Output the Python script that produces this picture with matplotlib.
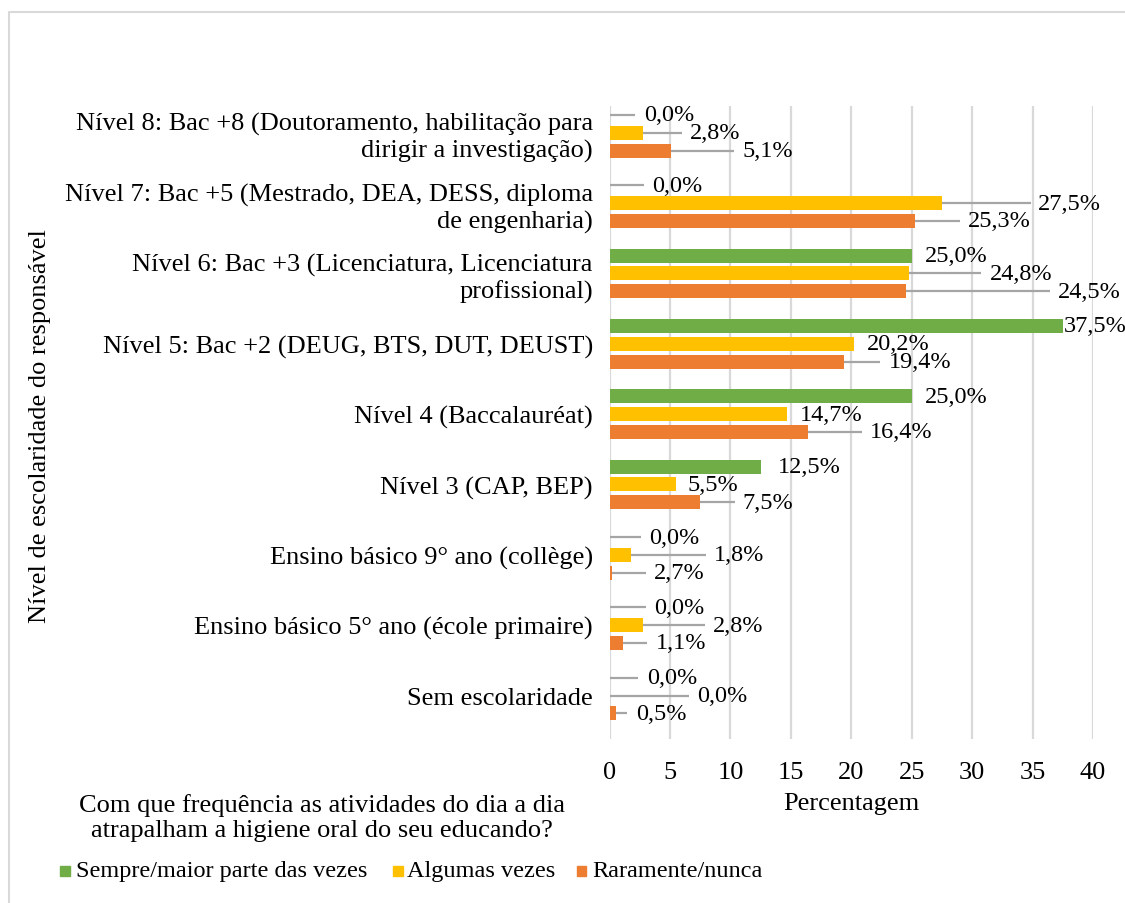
import matplotlib
matplotlib.use("Agg")
import matplotlib.pyplot as plt
from matplotlib.lines import Line2D
from matplotlib.patches import Rectangle

# ---------------- data ----------------
categories = [
    "Sem escolaridade",
    "Ensino básico 5° ano (école primaire)",
    "Ensino básico 9° ano (collège)",
    "Nível 3 (CAP, BEP)",
    "Nível 4 (Baccalauréat)",
    "Nível 5: Bac +2 (DEUG, BTS, DUT, DEUST)",
    "Nível 6: Bac +3 (Licenciatura, Licenciatura\nprofissional)",
    "Nível 7: Bac +5 (Mestrado, DEA, DESS, diploma\nde engenharia)",
    "Nível 8: Bac +8 (Doutoramento, habilitação para\ndirigir a investigação)",
]
series_names = ["Sempre/maior parte das vezes", "Algumas vezes", "Raramente/nunca"]
sempre = [0.0, 0.0, 0.0, 12.5, 25.0, 37.5, 25.0, 0.0, 0.0]
algumas = [0.0, 2.8, 1.8, 5.5, 14.7, 20.2, 24.8, 27.5, 2.8]
raramente = [0.5, 1.1, 0.2, 7.5, 16.4, 19.4, 24.5, 25.3, 5.1]          # bar lengths as drawn
raramente_rotulo = [0.5, 1.1, 2.7, 7.5, 16.4, 19.4, 24.5, 25.3, 5.1]   # values printed in labels
x_ticks = [0, 5, 10, 15, 20, 25, 30, 35, 40]
x_label = "Percentagem"
y_label = "Nível de escolaridade do responsável"
legend_title = "Com que frequência as atividades do dia a dia\natrapalham a higiene oral do seu educando?"

# ---------------- layout (label placement, leader lines) ----------------
# (leader end x, label left x) in data units; None leader = no line
lay_sempre = [(2.38, 3.08), (3.02, 3.68), (2.58, 3.29), (None, 13.94), (None, 26.1),
              (None, 37.6), (None, 26.1), (2.82, 3.52), (2.1, 2.85)]
lay_algumas = [(6.58, 7.26), (7.9, 8.54), (7.98, 8.64), (None, 6.49), (None, 15.76),
               (None, 21.3), (30.73, 31.47), (34.86, 35.44), (6.0, 6.66)]
lay_raramente = [(1.47, 2.19), (3.08, 3.85), (3.0, 3.68), (10.38, 10.96), (20.88, 21.55),
                 (22.37, 23.12), (36.43, 37.09), (28.99, 29.65), (10.3, 11.04)]

colors = ["#70AD47", "#FFC000", "#ED7D31"]
FONT = "Liberation Serif"
plt.rcParams["font.family"] = [FONT, "DejaVu Serif"]

W, H = 1125, 904
fig = plt.figure(figsize=(W / 100, H / 100), dpi=100)

ax_l, ax_r, ax_t, ax_b = 609.5, 1093.0, 106.7, 740.0
ax = fig.add_axes([ax_l / W, 1 - ax_b / H, (ax_r - ax_l) / W, (ax_b - ax_t) / H])

n = len(categories)
pos = list(range(n))
step = 0.253
bh = 0.199
offsets = [step, 0.0, -step]
all_vals = [sempre, algumas, raramente]
all_labels = [sempre, algumas, raramente_rotulo]
all_lay = [lay_sempre, lay_algumas, lay_raramente]

FS_AX = 19
FS_DL = 17.5
FS_LEG = 17.5
for s in range(3):
    ys = [p + offsets[s] for p in pos]
    ax.barh(ys, all_vals[s], height=bh, color=colors[s], zorder=3, label=series_names[s])
    for i in range(n):
        v = all_vals[s][i]
        lead, tx = all_lay[s][i]
        if lead is not None:
            ax.plot([v, lead], [ys[i], ys[i]], color="#A5A5A5", lw=1.6, zorder=2,
                    solid_capstyle="butt", clip_on=False)
        txt = f"{all_labels[s][i]:.1f}".replace(".", ",") + "%"
        ax.text(tx, ys[i], txt, ha="left", va="center", fontsize=FS_DL, color="#000000",
                zorder=4, clip_on=False)

ax.set_xlim(0, 40)
ax.set_ylim(-0.618, 8.384)
ax.set_xticks(x_ticks)
ax.set_xticklabels([str(t) for t in x_ticks], fontsize=FS_AX)
ax.set_yticks(pos)
ax.set_yticklabels(categories, fontsize=FS_AX, ha="right", multialignment="right",
                   linespacing=1.22)
ax.tick_params(axis="y", length=0, pad=12)
ax.tick_params(axis="x", length=0, pad=16)
ax.xaxis.grid(True, color="#D9D9D9", lw=1.6, zorder=0)
ax.set_axisbelow(True)
for sp in ax.spines.values():
    sp.set_visible(False)

fig.text(851 / W, 1 - 804 / H, x_label, ha="center", va="center", fontsize=FS_AX)
fig.text(40 / W, 1 - 426 / H, y_label, ha="center", va="center", rotation=90, fontsize=FS_AX)
fig.text(322 / W, 1 - 818 / H, legend_title, ha="center", va="center", fontsize=FS_AX,
         multialignment="center", linespacing=1.22)

# legend row
leg_items = [(60, 75.5), (393, 406.6), (576.5, 592)]
for s in range(3):
    sx, tx = leg_items[s]
    fig.patches.append(Rectangle((sx / W, 1 - 877 / H), 10 / W, 10 / H,
                                 transform=fig.transFigure, color=colors[s]))
    fig.text(tx / W, 1 - 872 / H, series_names[s], ha="left", va="center", fontsize=FS_LEG)

# chart frame
fig.lines.append(Line2D([8.5 / W, 8.5 / W, 1.0], [0.0, 1 - 12.5 / H, 1 - 12.5 / H],
                        transform=fig.transFigure, color="#D9D9D9", lw=1.5))

fig.savefig("out.png", dpi=100, facecolor="white")
